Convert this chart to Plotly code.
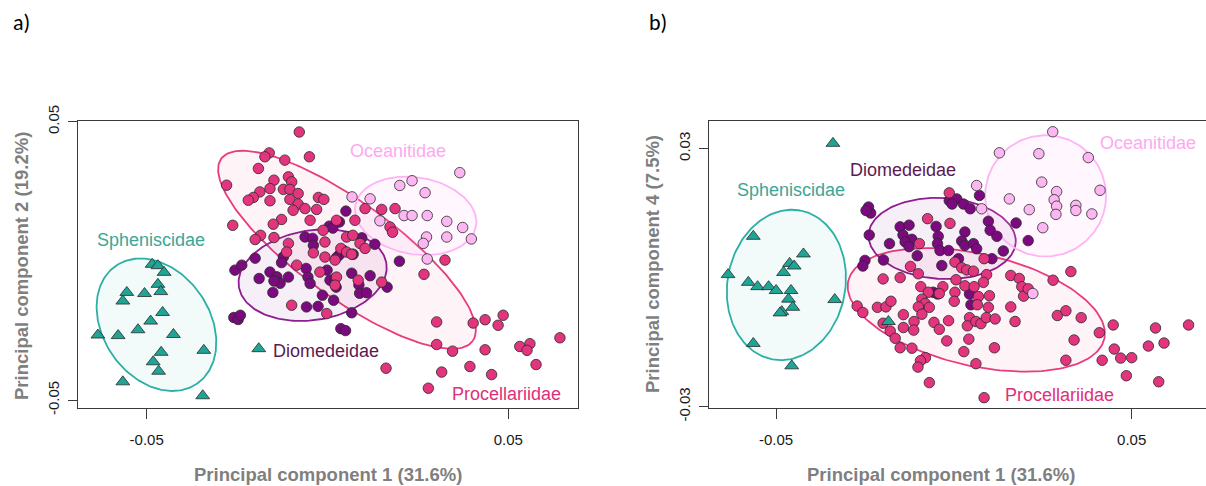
import numpy as np
import plotly.graph_objects as go

# ---------------- data: panel a (PC1 vs PC2) ----------------
sph_a_pc1 = [-48.5e-3,-46.9e-3,-45.2e-3,-46.9e-3,-46.1e-3,-55.5e-3,-50.6e-3,-56.6e-3,-45.6e-3,-48.9e-3,-52.4e-3,-63.5e-3,-57.9e-3,-42.6e-3,-46.0e-3,-34.2e-3,-48.2e-3,-46.7e-3,-56.6e-3,-34.5e-3,-19.0e-3]
sph_a_pc2 = [-1.2e-3,-1.7e-3,-4.1e-3,-8.4e-3,-11.0e-3,-11.3e-3,-11.7e-3,-14.4e-3,-18.5e-3,-21.6e-3,-24.7e-3,-26.6e-3,-26.8e-3,-26.4e-3,-32.8e-3,-32.1e-3,-36.2e-3,-39.6e-3,-43.4e-3,-48.4e-3,-31.5e-3]

oce_a_pc1 = [6.8e-3,11.8e-3,20.0e-3,23.4e-3,27.0e-3,36.6e-3,21.2e-3,23.4e-3,27.6e-3,14.5e-3,33.0e-3,37.4e-3,27.4e-3,33.0e-3,39.8e-3,26.5e-3,27.6e-3]
oce_a_pc2 = [23.0e-3,22.3e-3,27.1e-3,28.8e-3,24.5e-3,31.7e-3,16.3e-3,16.3e-3,16.3e-3,14.4e-3,14.2e-3,12.0e-3,8.6e-3,8.6e-3,7.9e-3,6.3e-3,0.7e-3]

pro_a_pc1 = [-7.8e-3,-16.1e-3,-17.3e-3,-11.8e-3,-5.0e-3,-19.1e-3,-27.9e-3,-14.8e-3,-10.8e-3,-9.9e-3,
             -15.9e-3,-12.2e-3,-10.4e-3,-8.1e-3,-18.7e-3,-20.5e-3,-21.9e-3,-15.9e-3,-10.4e-3,-8.1e-3,
             -6.2e-3,-2.5e-3,-1.0e-3,-9.5e-3,-3.0e-3,-4.8e-3,-12.7e-3,-15.0e-3,-26.2e-3,-18.5e-3,
             -20.0e-3,-14.8e-3,-10.8e-3,-11.3e-3,7.6e-3,10.4e-3,15.0e-3,18.7e-3,17.3e-3,18.0e-3,
             2.5e-3,-1.2e-3,-0.7e-3,5.3e-3,7.0e-3,9.0e-3,10.4e-3,3.7e-3,5.3e-3,6.7e-3,
             -3.9e-3,-0.7e-3,2.1e-3,-8.5e-3,-2.1e-3,2.5e-3,2.1e-3,8.5e-3,15.0e-3,-9.9e-3,
             -0.2e-3,32.5e-3,26.7e-3,30.2e-3,40.3e-3,43.6e-3,47.2e-3,48.6e-3,30.2e-3,34.6e-3,
             43.6e-3,53.2e-3,56.0e-3,55.2e-3,64.3e-3,57.7e-3,16.2e-3,31.6e-3,39.4e-3,45.4e-3,27.9e-3]
pro_a_pc2 = [46.3e-3,38.8e-3,37.4e-3,36.2e-3,37.4e-3,33.2e-3,27.2e-3,29.0e-3,30.2e-3,28.4e-3,
             26.0e-3,25.7e-3,25.7e-3,24.2e-3,24.8e-3,22.8e-3,21.8e-3,21.6e-3,22.1e-3,20.4e-3,
             18.8e-3,22.8e-3,22.1e-3,18.2e-3,18.5e-3,14.6e-3,14.9e-3,13.2e-3,12.8e-3,9.2e-3,
             7.7e-3,8.4e-3,6.3e-3,3.2e-3,14.6e-3,18.8e-3,18.5e-3,18.8e-3,12.2e-3,10.3e-3,
             14.6e-3,11.0e-3,6.8e-3,8.6e-3,9.2e-3,6.3e-3,4.5e-3,4.5e-3,3.2e-3,2.4e-3,
             2.9e-3,1.4e-3,0.3e-3,-1.5e-3,-4.0e-3,-5.8e-3,-8.7e-3,-6.9e-3,-7.6e-3,-15.9e-3,
             -18.9e-3,0.3e-3,-4.8e-3,-21.9e-3,-22.3e-3,-21.1e-3,-23.1e-3,-19.5e-3,-30.0e-3,-32.4e-3,
             -31.9e-3,-30.7e-3,-29.7e-3,-32.1e-3,-27.6e-3,-37.2e-3,-38.5e-3,-39.9e-3,-37.9e-3,-40.8e-3,-45.7e-3]

dio_a_pc1 = [5.1e-3,0.5e-3,3.3e-3,1.5e-3,-6.2e-3,-4.1e-3,-12.2e-3,-12.7e-3,-20.0e-3,-25.6e-3,
             -23.7e-3,-18.9e-3,-15.9e-3,-14.0e-3,-13.1e-3,-14.8e-3,-10.8e-3,-5.9e-3,-5.4e-3,-4.8e-3,
             -0.1e-3,0.7e-3,2.1e-3,2.4e-3,-15.1e-3,-5.8e-3,-2.6e-3,-1.4e-3,1.7e-3,6.7e-3,
             8.7e-3,11.8e-3,8.9e-3,10.8e-3,16.5e-3,19.9e-3,13.1e-3,9.5e-3,6.7e-3,-25.9e-3,
             -24.7e-3,-24.1e-3,3.7e-3,5.0e-3,3.3e-3,4.4e-3,7.1e-3,2.5e-3,-3.9e-3]
dio_a_pc2 = [17.9e-3,12.5e-3,14.0e-3,11.8e-3,8.6e-3,8.1e-3,1.4e-3,-0.6e-3,1.0e-3,-3.3e-3,
             -1.5e-3,-6.3e-3,-4.0e-3,-5.7e-3,-8.0e-3,-7.2e-3,-5.8e-3,-2.7e-3,-5.8e-3,-8.1e-3,
             -3.3e-3,-6.9e-3,-6.3e-3,-9.4e-3,-11.3e-3,-16.5e-3,-16.3e-3,-12.3e-3,-14.1e-3,-4.4e-3,
             -8.6e-3,-5.3e-3,-11.6e-3,-11.4e-3,-9.4e-3,-0.1e-3,6.0e-3,8.3e-3,-18.6e-3,-20.3e-3,
             -21.0e-3,-19.5e-3,-24.3e-3,-25.0e-3,2.2e-3,3.8e-3,2.4e-3,1.2e-3,5.6e-3]

# ---------------- data: panel b (PC1 vs PC4) ----------------
sph_b_pc1 = [-34.0e-3,-56.4e-3,-42.3e-3,-46.2e-3,-44.9e-3,-47.9e-3,-63.5e-3,-57.8e-3,-55.2e-3,-52.1e-3,
             -50.0e-3,-45.8e-3,-46.5e-3,-33.5e-3,-48.4e-3,-48.9e-3,-45.3e-3,-56.4e-3,-45.6e-3,-18.4e-3]
sph_b_pc4 = [31.2e-3,9.6e-3,5.5e-3,3.3e-3,2.7e-3,1.2e-3,0.7e-3,-1.1e-3,-2.1e-3,-2.1e-3,
             -3.0e-3,-3.0e-3,-5.0e-3,-5.1e-3,-7.9e-3,-8.2e-3,-6.9e-3,-15.3e-3,-20.5e-3,-10.2e-3]

oce_b_pc1 = [27.8e-3,23.9e-3,37.8e-3,12.8e-3,24.7e-3,28.9e-3,41.1e-3,15.6e-3,28.2e-3,28.9e-3,
             28.7e-3,34.3e-3,34.3e-3,21.2e-3,38.8e-3,25.0e-3,22.2e-3,6.4e-3,7.8e-3]
oce_b_pc4 = [33.9e-3,28.8e-3,27.9e-3,29.0e-3,22.2e-3,20.0e-3,20.3e-3,18.3e-3,18.1e-3,16.6e-3,
             14.7e-3,16.8e-3,15.6e-3,15.8e-3,14.8e-3,11.6e-3,-3.7e-3,21.4e-3,16.0e-3]

dio_b_pc1 = [-24.0e-3,-23.4e-3,-24.7e-3,-1.3e-3,0.8e-3,-0.5e-3,2.7e-3,4.6e-3,7.2e-3,-15.1e-3,
             -12.6e-3,-14.3e-3,-11.8e-3,-13.7e-3,-23.8e-3,-18.1e-3,-5.0e-3,-4.4e-3,-4.6e-3,-3.9e-3,
             -1.5e-3,3.1e-3,2.2e-3,3.1e-3,5.5e-3,6.4e-3,9.7e-3,10.2e-3,12.1e-3,17.5e-3,
             20.9e-3,13.9e-3,10.7e-3,-10.3e-3,-3.4e-3,-25.0e-3,-25.6e-3,-19.8e-3,-5.8e-3,-4.6e-3,
             4.4e-3,4.8e-3,1.3e-3,-12.6e-3]
dio_b_pc4 = [16.4e-3,15.0e-3,15.6e-3,17.9e-3,18.3e-3,17.1e-3,17.1e-3,16.0e-3,19.1e-3,11.8e-3,
             12.2e-3,9.9e-3,8.9e-3,8.3e-3,9.9e-3,7.9e-3,11.9e-3,9.6e-3,7.9e-3,6.3e-3,
             6.3e-3,10.6e-3,8.5e-3,7.5e-3,7.9e-3,6.7e-3,13.1e-3,11.0e-3,9.6e-3,12.7e-3,
             8.6e-3,6.2e-3,4.4e-3,5.1e-3,2.8e-3,4.0e-3,2.7e-3,4.1e-3,-3.4e-3,-3.8e-3,
             -3.8e-3,-6.3e-3,4.4e-3,7.2e-3]

pro_b_pc1 = [-1.3e-3,-7.4e-3,-1.1e-3,-9.7e-3,-12.2e-3,-19.9e-3,-15.1e-3,-10.0e-3,0.3e-3,2.2e-3,
             3.6e-3,5.5e-3,0.6e-3,8.5e-3,9.2e-3,8.3e-3,16.0e-3,18.4e-3,19.1e-3,19.6e-3,
             20.9e-3,27.9e-3,-27.2e-3,-25.6e-3,-21.5e-3,-19.1e-3,-17.7e-3,-9.3e-3,-7.2e-3,-9.0e-3,
             -8.1e-3,-10.0e-3,-6.9e-3,-9.0e-3,-3.1e-3,-4.1e-3,0.3e-3,3.1e-3,5.7e-3,6.9e-3,
             10.0e-3,0.1e-3,6.6e-3,9.7e-3,16.0e-3,-14.2e-3,-19.9e-3,-17.9e-3,-16.5e-3,-14.2e-3,
             -11.2e-3,-11.3e-3,-5.6e-3,-4.1e-3,-1.5e-3,4.4e-3,3.8e-3,6.2e-3,7.6e-3,9.1e-3,
             11.6e-3,17.2e-3,-2.0e-3,4.2e-3,11.4e-3,-15.1e-3,-11.8e-3,2.8e-3,-8.0e-3,-9.4e-3,
             -10.1e-3,6.2e-3,-6.9e-3,8.5e-3,32.9e-3,29.1e-3,31.5e-3,35.8e-3,33.8e-3,31.5e-3,
             40.9e-3,44.8e-3,41.7e-3,45.1e-3,46.9e-3,50.0e-3,48.5e-3,54.7e-3,56.7e-3,59.1e-3,57.6e-3,66.0e-3]
pro_b_pc4 = [19.7e-3,13.7e-3,12.6e-3,7.9e-3,2.6e-3,-0.3e-3,0.0e-3,0.9e-3,3.6e-3,2.3e-3,
             1.8e-3,1.5e-3,-0.5e-3,4.4e-3,0.7e-3,-1.1e-3,0.5e-3,-0.2e-3,-2.1e-3,-4.3e-3,
             -2.6e-3,-0.6e-3,-6.6e-3,-8.1e-3,-6.9e-3,-6.8e-3,-5.5e-3,-2.1e-3,-3.4e-3,-5.0e-3,
             -6.0e-3,-6.8e-3,-6.9e-3,-8.5e-3,-2.1e-3,-3.7e-3,-3.4e-3,-1.9e-3,-2.1e-3,-4.4e-3,
             -4.2e-3,-5.5e-3,-6.3e-3,-6.9e-3,-6.8e-3,-8.6e-3,-10.6e-3,-12.4e-3,-14.1e-3,-11.6e-3,
             -10.2e-3,-12.2e-3,-10.4e-3,-12.0e-3,-10.0e-3,-9.3e-3,-11.2e-3,-10.2e-3,-10.7e-3,-9.3e-3,
             -9.6e-3,-10.2e-3,-14.7e-3,-14.3e-3,-16.3e-3,-16.3e-3,-16.4e-3,-17.2e-3,-18.6e-3,-19.3e-3,
             -20.8e-3,-20.0e-3,-24.4e-3,-27.9e-3,1.4e-3,-8.8e-3,-7.7e-3,-9.3e-3,-14.5e-3,-19.2e-3,
             -12.8e-3,-11.0e-3,-19.2e-3,-16.6e-3,-18.7e-3,-18.6e-3,-22.8e-3,-15.9e-3,-11.7e-3,-15.2e-3,-24.2e-3,-11.0e-3]

# Ellipse summaries (centre, two conjugate half-axis vectors)
ell_a = {
    "Spheniscidae":   ([-47.3e-3, -22.9e-3], [11.3e-3, -21.1e-3], [12.1e-3, 11.0e-3]),
    "Procellariidae": ([5.4e-3, 4.0e-3],     [34.8e-3, -32.7e-3], [-7.7e-3, -14.0e-3]),
    "Diomedeidae":    ([-4.1e-3, -5.1e-3],   [20.4e-3, 4.2e-3],   [1.9e-3, -15.9e-3]),
    "Oceanitidae":    ([24.4e-3, 16.2e-3],   [16.7e-3, -3.7e-3],  [-1.8e-3, -13.6e-3]),
}
ell_b = {
    "Spheniscidae":   ([-47.1e-3, -1.7e-3],  [3.9e-3, 17.3e-3],   [16.3e-3, -2.5e-3]),
    "Procellariidae": ([6.3e-3, -7.5e-3],    [36.0e-3, -6.7e-3],  [-3.4e-3, -12.7e-3]),
    "Diomedeidae":    ([-3.3e-3, 9.1e-3],    [20.7e-3, -0.9e-3],  [-0.6e-3, -9.4e-3]),
    "Oceanitidae":    ([25.8e-3, 19.0e-3],   [17.0e-3, 0.0],      [0.0, 14.1e-3]),
}

families = ["Spheniscidae", "Procellariidae", "Diomedeidae", "Oceanitidae"]
pt_color = {"Spheniscidae": "#1fa596", "Procellariidae": "#e2357d",
            "Diomedeidae": "#7b0a7f", "Oceanitidae": "#fcb6f2"}
ln_color = {"Spheniscidae": "#2ab0a4", "Procellariidae": "#ea3b7e",
            "Diomedeidae": "#8f1c90", "Oceanitidae": "#ffb3f6"}
fill_color = {"Spheniscidae": "rgba(42,176,164,0.06)", "Procellariidae": "rgba(234,59,126,0.06)",
              "Diomedeidae": "rgba(143,28,144,0.07)", "Oceanitidae": "rgba(255,179,246,0.12)"}
lab_color = {"Spheniscidae": "#3aa797", "Procellariidae": "#e0307a",
             "Diomedeidae": "#5c1a52", "Oceanitidae": "#ffa8f2"}

W, H = 1206, 486
fig = go.Figure()

def add_ellipses(ells, xa, ya):
    t = np.linspace(0, 2 * np.pi, 181)
    for fam in families:
        c, A, B = ells[fam]
        ex = c[0] + A[0] * np.cos(t) + B[0] * np.sin(t)
        ey = c[1] + A[1] * np.cos(t) + B[1] * np.sin(t)
        fig.add_trace(go.Scatter(x=ex, y=ey, mode="lines", fill="toself",
                                 fillcolor=fill_color[fam],
                                 line=dict(color=ln_color[fam], width=1.8),
                                 xaxis=xa, yaxis=ya, hoverinfo="skip", showlegend=False))

def add_points(x, y, fam, xa, ya):
    sym = "triangle-up" if fam == "Spheniscidae" else "circle"
    size = 12 if fam == "Spheniscidae" else 10.5
    fig.add_trace(go.Scatter(x=x, y=y, mode="markers", name=fam, showlegend=False,
                             marker=dict(symbol=sym, size=size, color=pt_color[fam],
                                         line=dict(color="#2a2a2a", width=0.8)),
                             xaxis=xa, yaxis=ya))

add_ellipses(ell_a, "x", "y")
add_points(dio_a_pc1, dio_a_pc2, "Diomedeidae", "x", "y")
add_points(pro_a_pc1, pro_a_pc2, "Procellariidae", "x", "y")
add_points(oce_a_pc1, oce_a_pc2, "Oceanitidae", "x", "y")
add_points(sph_a_pc1, sph_a_pc2, "Spheniscidae", "x", "y")

add_ellipses(ell_b, "x2", "y2")
add_points(dio_b_pc1, dio_b_pc4, "Diomedeidae", "x2", "y2")
add_points(pro_b_pc1, pro_b_pc4, "Procellariidae", "x2", "y2")
add_points(oce_b_pc1, oce_b_pc4, "Oceanitidae", "x2", "y2")
add_points(sph_b_pc1, sph_b_pc4, "Spheniscidae", "x2", "y2")

tickfont = dict(family="Liberation Sans, Arial, sans-serif", size=15, color="#1a1a1a")
ydom = [(H - 408) / H, (H - 121) / H]
common = dict(showgrid=False, zeroline=False, showline=True, linecolor="#3a3a3a", linewidth=1,
              ticks="outside", tickcolor="#3a3a3a", tickfont=tickfont, automargin=False)

fig.update_layout(
    width=W, height=H, autosize=False,
    margin=dict(l=0, r=0, t=0, b=0, pad=0, autoexpand=False),
    paper_bgcolor="white", plot_bgcolor="white",
    xaxis=dict(domain=[78 / W, 578 / W], range=[-0.0690, 0.0693], anchor="y",
               tickvals=[-0.05, 0.05], ticktext=["-0.05", "0.05"], ticklen=10, mirror=True,
               ticklabelstandoff=8, **common),
    yaxis=dict(domain=ydom, range=[-0.0528, 0.05025], anchor="x",
               tickvals=[-0.05, 0.05], ticktext=["-0.05", "0.05"], ticklen=9, tickangle=-90,
               mirror=True, ticklabelstandoff=3, **common),
    xaxis2=dict(domain=[708.5 / W, 1.0], range=[-0.0690, 0.0709], anchor="y2",
                tickvals=[-0.05, 0.05], ticktext=["-0.05", "0.05"], ticklen=10, mirror=True,
                ticklabelstandoff=8, **common),
    yaxis2=dict(domain=ydom, range=[-0.0303, 0.0364], anchor="x2",
                tickvals=[-0.03, 0.03], ticktext=["-0.03", "0.03"], ticklen=9, tickangle=-90,
                mirror=False, ticklabelstandoff=3, **common),
)

title_font = dict(family="Liberation Sans, Arial, sans-serif", size=18.5, color="#7f7f7f")
ann = []
for tx, px, py, ang in [("Principal component 1 (31.6%)", 328, 474, 0),
                        ("Principal component 1 (31.6%)", 941, 474, 0),
                        ("Principal component 2 (19.2%)", 21, 266, -90),
                        ("Principal component 4 (7.5%)", 652, 264, -90)]:
    ann.append(dict(text="<b>" + tx + "</b>", x=px / W, y=(H - py) / H,
                    xref="paper", yref="paper", xanchor="center", yanchor="middle",
                    showarrow=False, textangle=ang, font=title_font))
panel_font = dict(family="Carlito, Liberation Sans, Arial, sans-serif", size=22, color="black")
for tx, px in [("a)", 11), ("b)", 647)]:
    ann.append(dict(text=tx, x=px / W, y=(H - 22) / H, xref="paper", yref="paper",
                    xanchor="left", yanchor="middle", showarrow=False, font=panel_font))

lab_a = {"Spheniscidae": (-48.8e-3, 7.7e-3), "Diomedeidae": (-0.4e-3, -32.4e-3),
         "Oceanitidae": (19.5e-3, 39.6e-3), "Procellariidae": (49.4e-3, -47.9e-3)}
lab_b = {"Spheniscidae": (-45.8e-3, 20.3e-3), "Diomedeidae": (-14.4e-3, 24.9e-3),
         "Oceanitidae": (54.6e-3, 31.2e-3), "Procellariidae": (29.6e-3, -27.3e-3)}
lab_font = "Liberation Sans, Arial, sans-serif"
for fam, (lx, ly) in lab_a.items():
    ann.append(dict(text=fam, x=lx, y=ly, xref="x", yref="y", showarrow=False,
                    xanchor="center", yanchor="middle",
                    font=dict(family=lab_font, size=18, color=lab_color[fam])))
for fam, (lx, ly) in lab_b.items():
    ann.append(dict(text=fam, x=lx, y=ly, xref="x2", yref="y2", showarrow=False,
                    xanchor="center", yanchor="middle",
                    font=dict(family=lab_font, size=18, color=lab_color[fam])))
fig.update_layout(annotations=ann)

fig.write_html("out.html")
